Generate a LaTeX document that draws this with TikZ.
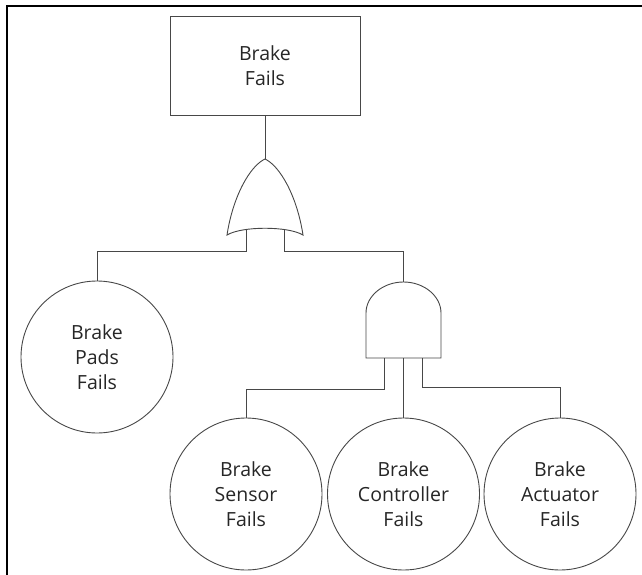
\documentclass[tikz,border=0pt]{standalone}
\usepackage{fontspec}
\setmainfont{Open Sans}

\begin{document}
\begin{tikzpicture}[x=1pt,y=-1pt,line width=0.9pt,draw=black!72,
  top/.style={draw,rectangle,minimum width=190pt,minimum height=99pt,align=center},
  basic/.style={draw,circle,minimum size=152pt,inner sep=0pt,align=center},
  every node/.style={font=\fontsize{19.5}{25}\selectfont,text=black!85}]
  \useasboundingbox (0,0) rectangle (642,575);
  \draw[black,line width=2.2pt] (7,575) -- (7,6) -- (642,6);

  \node[top] (fails) at (265,65.5) {Brake\\Fails};
  \node[basic] (pads) at (97,357) {Brake\\Pads\\Fails};
  \node[basic] (sensor) at (246,494) {Brake\\Sensor\\Fails};
  \node[basic] (controller) at (403.5,494) {Brake\\Controller\\Fails};
  \node[basic] (actuator) at (560,494) {Brake\\Actuator\\Fails};

  % or gate
  \draw (227,235) .. controls (233,196) and (250,166) .. (265,159)
        .. controls (280,166) and (297,196) .. (303,235)
        .. controls (288,226) and (242,226) .. cycle;
  \coordinate (orout) at (265,159);
  \coordinate (orin1) at (246,230);
  \coordinate (orin2) at (284,230);

  % and gate
  \draw (366,358) -- (366,313) .. controls (366,296) and (383,282) .. (403.5,282)
        .. controls (424,282) and (441,296) .. (441,313) -- (441,358) -- cycle;
  \coordinate (andout) at (403.5,282);
  \coordinate (andin1) at (384,358);
  \coordinate (andin2) at (403.5,358);
  \coordinate (andin3) at (422,358);

  \draw (fails) -- (orout);
  \draw (orin1) -- ++(0,21) -| (pads);
  \draw (orin2) -- ++(0,21) -| (andout);
  \draw (andin1) -- ++(0,31) -| (sensor);
  \draw (andin2) -- (controller);
  \draw (andin3) -- ++(0,29) -| (actuator);
\end{tikzpicture}
\end{document}
